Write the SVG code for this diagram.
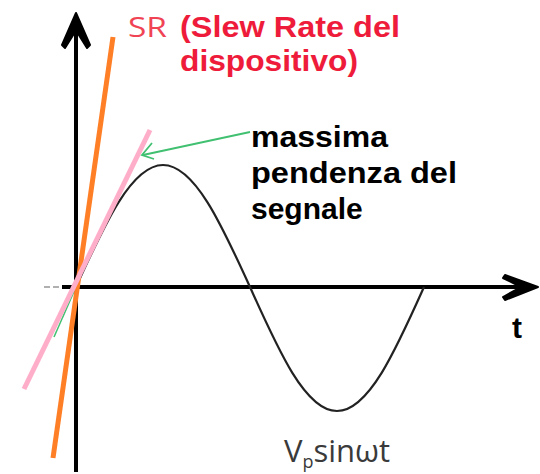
<svg xmlns="http://www.w3.org/2000/svg" width="540" height="474" viewBox="0 0 540 474">
<style>
.axis{stroke:#000;stroke-width:4;fill:none}
.head{fill:#000;stroke:#000;stroke-width:2;stroke-linejoin:round}
.red{font-family:"Liberation Sans",Arial,sans-serif;font-weight:bold;fill:#ee1c3a}
.blk{font-family:"Liberation Sans",Arial,sans-serif;font-weight:bold;fill:#000}
</style>
<rect width="540" height="474" fill="#fff"/>
<g id="axes">
<line x1="76" y1="472" x2="76" y2="22" class="axis"/>
<polygon class="head" points="76,13 90,45 87,48 77,32 75,32 65,48 62,45"/>
<line x1="62" y1="287" x2="530" y2="287" class="axis"/>
<polygon class="head" points="538,287 505,275 503,278 521,287 503,297 505,300"/>
<line x1="44" y1="287" x2="60" y2="287" stroke="#b0b0b0" stroke-width="2" stroke-dasharray="6,3"/>
</g>
<g id="signal">
<path d="M76,287 C104.4,224.5 131.5,165 163,165 C194.5,165 221.6,224.5 250,287 C278.4,350.5 305.5,411 337,411 C368.5,411 395.6,350.5 424,287" fill="none" stroke="#222" stroke-width="2.2"/>
</g>
<g id="connectors">
<line x1="54" y1="337" x2="76" y2="287" stroke="#40c070" stroke-width="1.5"/>
<line id="slew-line" x1="113" y1="37" x2="53" y2="458" stroke="#ff7f27" stroke-width="5"/>
<line id="tangent" x1="150" y1="130" x2="24" y2="389" stroke="#ffaec9" stroke-width="5"/>
<line x1="250" y1="132" x2="143" y2="155" stroke="#40c070" stroke-width="1.8"/>
<polyline points="152,143 142,155 154,159" fill="none" stroke="#40c070" stroke-width="1.8"/>
</g>
<g id="label-sr">
<text x="128" y="37" font-family="Open Sans, Liberation Sans, sans-serif" font-size="27" fill="#f04454" textLength="39" lengthAdjust="spacingAndGlyphs">SR</text>
<text x="180" y="37" class="red" font-size="30" textLength="220" lengthAdjust="spacingAndGlyphs">(Slew Rate del</text>
<text x="180" y="71" class="red" font-size="30" textLength="178" lengthAdjust="spacingAndGlyphs">dispositivo)</text>
</g>
<g id="label-pendenza">
<text x="251" y="147" class="blk" font-size="30" textLength="137" lengthAdjust="spacingAndGlyphs">massima</text>
<text x="251" y="183" class="blk" font-size="30" textLength="206" lengthAdjust="spacingAndGlyphs">pendenza del</text>
<text x="251" y="219" class="blk" font-size="30">segnale</text>
</g>
<g id="label-t">
<text x="512" y="338" class="blk" font-size="30">t</text>
</g>
<g id="label-signal">
<text x="284" y="462" font-family="Open Sans, Liberation Sans, sans-serif" font-size="31" fill="#3a3a3a">V<tspan font-size="18" dy="6">p</tspan><tspan dy="-6">sinωt</tspan></text>
</g>
</svg>
